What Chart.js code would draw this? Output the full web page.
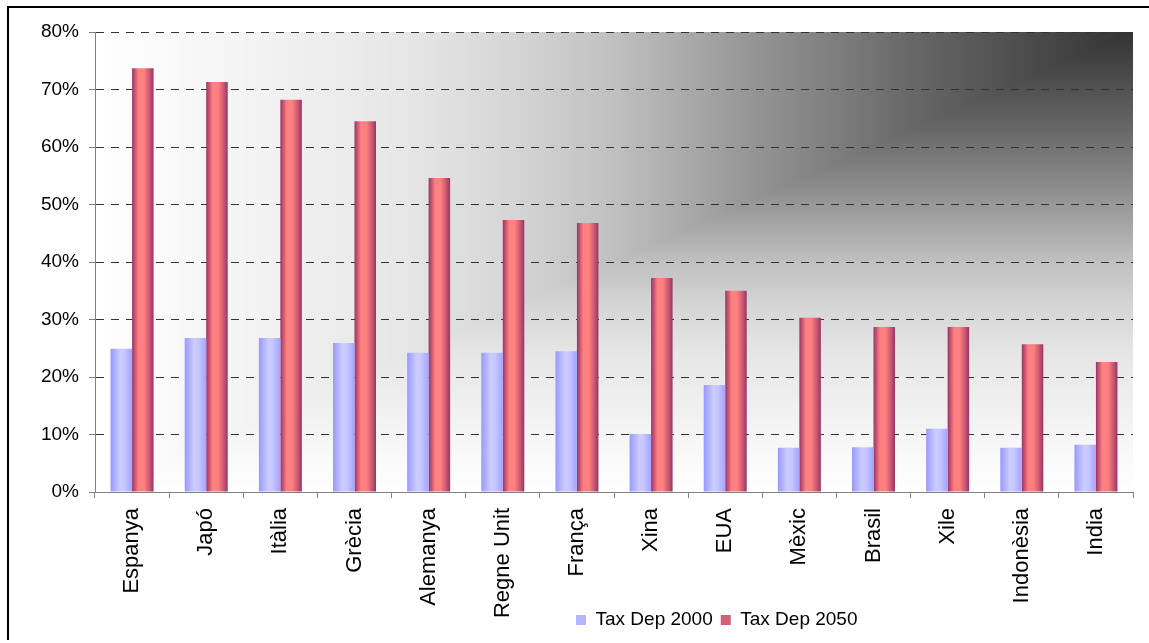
<!DOCTYPE html>
<html><head><meta charset="utf-8">
<script src="https://cdn.jsdelivr.net/npm/chart.js@4.4.0/dist/chart.umd.min.js"></script>
<style>
html,body{margin:0;padding:0;background:#fff;overflow:hidden;}
#c{position:absolute;left:0;top:0;}
</style></head><body>
<canvas id="c" width="1149" height="643"></canvas>
<script>
const categories = ['Espanya','Japó','Itàlia','Grècia','Alemanya','Regne Unit','França','Xina','EUA','Mèxic','Brasil','Xile','Indonèsia','India'];
const taxDep2000 = [24.9,26.8,26.8,25.9,24.2,24.2,24.5,10.1,18.6,7.7,7.8,11.0,7.7,8.2];
const taxDep2050 = [73.7,71.3,68.2,64.5,54.6,47.3,46.8,37.2,35.0,30.3,28.7,28.7,25.7,22.6];
const seriesNames = ['Tax Dep 2000','Tax Dep 2050'];
const yTicks = [0,10,20,30,40,50,60,70,80];

const FONT = "'Liberation Sans', Arial, sans-serif";
const CAT_PCT = 0.58, BAR_PCT = 1;
const blueStops = [[0,'#9999ff'],[0.45,'#ccccff'],[0.65,'#c6c6ff'],[1,'#a3a3ff']];
const redStops = [[0,'#993366'],[0.3,'#ff8080'],[0.55,'#ff8080'],[0.8,'#cc5a72'],[1,'#993366']];
const bgStops = [[0,'#333333'],[0.2,'#646464'],[0.35,'#909090'],[0.5,'#c0c0c0'],[0.6,'#d6d6d6'],[0.7,'#e6e6e6'],[0.85,'#f3f3f3'],[1,'#ffffff']];
const LEGEND_X = 576, LEGEND_TOP = 602.5;

function barGradient(c, stops) {
  const chart = c.chart, xs = chart.scales && chart.scales.x;
  if (!chart.chartArea || !xs || c.dataIndex === undefined) return stops[1][1];
  const n = categories.length;
  const cat = xs.width / n;
  const size = cat * CAT_PCT, chunk = size / 2;
  const center = xs.getPixelForValue(c.dataIndex) - size / 2 + chunk * (c.datasetIndex + 0.5);
  const w = chunk * BAR_PCT;
  const g = chart.ctx.createLinearGradient(center - w / 2, 0, center + w / 2, 0);
  stops.forEach(s => g.addColorStop(s[0], s[1]));
  return g;
}

const bgPlugin = {
  id: 'bg',
  beforeDraw(chart) {
    const {ctx, chartArea: {left, top, right, bottom}} = chart;
    ctx.save();
    ctx.fillStyle = '#000';
    ctx.fillRect(7, 6, 2, 634);
    ctx.fillRect(7, 6, chart.width, 2);
    let g = ctx.createLinearGradient(0, top, 0, bottom);
    bgStops.forEach(s => g.addColorStop(s[0], s[1]));
    ctx.fillStyle = g;
    ctx.fillRect(left, top, right - left, bottom - top);
    g = ctx.createLinearGradient(right, 0, left, 0);
    bgStops.forEach(s => g.addColorStop(s[0], s[1]));
    ctx.fillStyle = g;
    ctx.beginPath();
    ctx.moveTo(left, top); ctx.lineTo(right, top); ctx.lineTo(left, bottom); ctx.closePath();
    ctx.fill();
    ctx.restore();
  },
  afterLayout(chart) {
    const lg = chart.legend;
    if (lg) {
      const d = LEGEND_X - (lg.left + lg.options.labels.padding);
      lg.left += d; lg.right += d;
      const h = lg.bottom - lg.top;
      lg.top = LEGEND_TOP; lg.bottom = LEGEND_TOP + h;
    }
  }
};

new Chart(document.getElementById('c'), {
  type: 'bar',
  data: {
    labels: categories,
    datasets: [
      {label: seriesNames[0], data: taxDep2000, backgroundColor: c => barGradient(c, blueStops), borderWidth: 0, categoryPercentage: CAT_PCT, barPercentage: BAR_PCT},
      {label: seriesNames[1], data: taxDep2050, backgroundColor: c => barGradient(c, redStops), borderWidth: 0, categoryPercentage: CAT_PCT, barPercentage: BAR_PCT}
    ]
  },
  options: {
    responsive: false,
    animation: false,
    devicePixelRatio: 1,
    layout: {padding: {left: 0, right: 16, top: 32, bottom: -16}},
    plugins: {
      tooltip: {enabled: false},
      legend: {
        position: 'bottom',
        align: 'start',
        labels: {
          font: {family: FONT, size: 19},
          color: '#000',
          boxWidth: 10, boxHeight: 10, padding: 8,
          generateLabels: () => [
            {text: seriesNames[0], fillStyle: '#b5b5ff', strokeStyle: '#b5b5ff', lineWidth: 0, datasetIndex: 0},
            {text: seriesNames[1], fillStyle: '#d65f76', strokeStyle: '#d65f76', lineWidth: 0, datasetIndex: 1}
          ]
        }
      }
    },
    scales: {
      x: {
        grid: {display: true, drawOnChartArea: false, drawTicks: true, tickLength: 6, tickColor: '#808080', tickWidth: 1, offset: true},
        border: {display: true, color: '#808080', width: 1},
        ticks: {color: '#000', font: {family: FONT, size: 22}, minRotation: 90, maxRotation: 90, padding: 10, autoSkip: false},
        afterFit(s) { s.height = 130; }
      },
      y: {
        min: 0, max: 80,
        afterBuildTicks(s) { s.ticks = yTicks.map(v => ({value: v})); },
        ticks: {callback: v => v + '%', color: '#000', font: {family: FONT, size: 19}, padding: 10},
        grid: {
          color: c => (c.tick && c.tick.value === 0) ? 'rgba(0,0,0,0)' : '#333333',
          lineWidth: 1, drawTicks: true, tickLength: 6, tickColor: '#808080', tickWidth: 1
        },
        border: {display: true, color: '#808080', width: 1, dash: [8, 7]},
        afterFit(s) { s.width = 95; }
      }
    }
  },
  plugins: [bgPlugin]
});
</script>
</body></html>
